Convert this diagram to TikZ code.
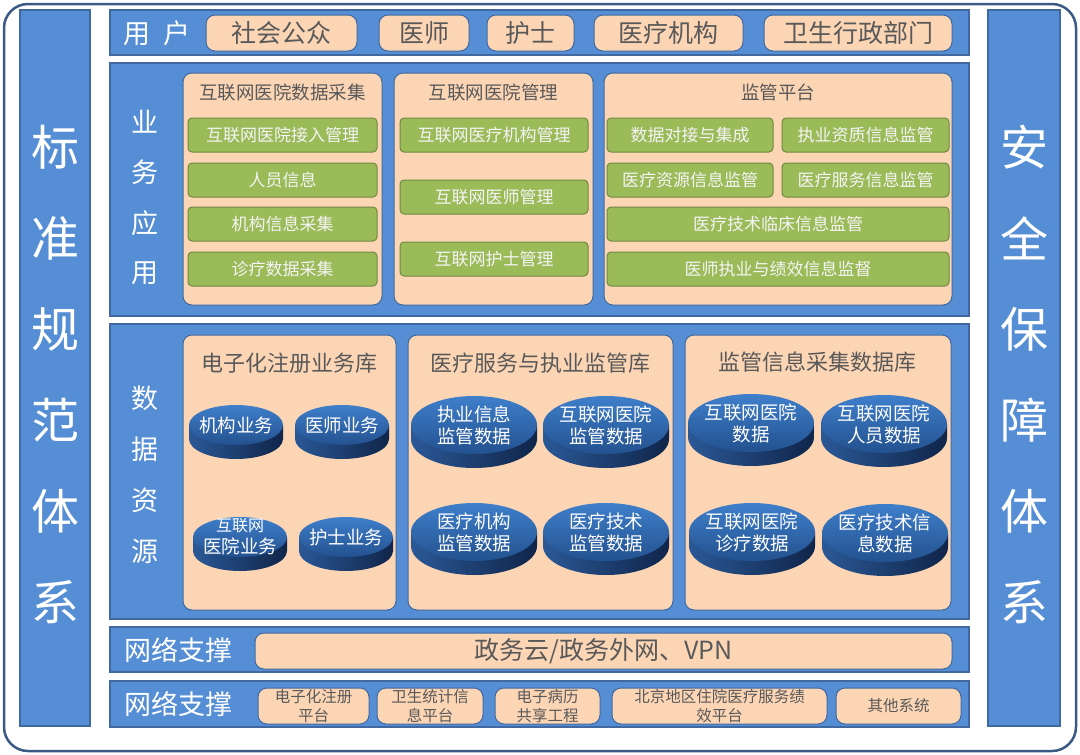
\documentclass[tikz,border=0pt]{standalone}
\usepackage{fontspec}
\setmainfont{Noto Sans CJK SC}
\usetikzlibrary{fit}
\definecolor{barblue}{HTML}{558ED5}
\definecolor{barline}{HTML}{41699F}
\definecolor{frameline}{HTML}{3C5A86}
\definecolor{peachfill}{HTML}{FCD5B5}
\definecolor{peachtext}{HTML}{595959}
\definecolor{greenfill}{HTML}{9BBB59}
\definecolor{greenline}{HTML}{71893F}
\definecolor{greentext}{HTML}{F4F4F4}
\definecolor{diskhi}{HTML}{3F7FCB}
\definecolor{disklo}{HTML}{23518F}
\definecolor{sidel}{HTML}{2A5896}
\definecolor{sider}{HTML}{10254A}
\newcommand\setfs[1]{\fontsize{#1}{#1}\selectfont}
% name, x, y, rx, ry, text
\newcommand\dbdisk[6]{%
  \shade[left color=sidel, right color=sider] (#2-#4,#3) -- (#2-#4,#3+14)
    arc[start angle=180, end angle=0, x radius=#4, y radius=#5] -- (#2+#4,#3) -- cycle;
  \shade[top color=diskhi, bottom color=disklo] (#2,#3) ellipse[x radius=#4, y radius=#5];
  \node[disktext] (#1) at (#2,#3) {#6};
}
\begin{document}
\begin{tikzpicture}[x=1pt,y=-1pt,
  bar/.style={draw=barline, fill=barblue, line width=1.2pt, inner sep=0pt},
  peach/.style={draw=barline, fill=peachfill, rounded corners=9pt, line width=1pt, inner sep=0pt, text=peachtext, align=center},
  greenbox/.style={draw=greenline, fill=greenfill, rounded corners=4pt, line width=1pt, inner sep=0pt, text=greentext, font=\setfs{17}},
  bartext/.style={text=white, inner sep=0pt},
  paneltitle/.style={text=peachtext, inner sep=0pt},
  disktext/.style={text=white, align=center, inner sep=0pt, font=\fontsize{18.5}{22}\selectfont},
]
\useasboundingbox[fill=white] (0,0) rectangle (1080,755);
\node[draw=frameline, fill=white, line width=2.5pt, rounded corners=24pt, inner sep=0pt, fit={(4,4) (1076,751)}] (frame) {};
\node[bar, fit={(20,10) (90,726)}] (stdcol) {};
\node[bar, fit={(988,10) (1060,726)}] (safecol) {};
\foreach \c [count=\n] in {标,准,规,范,体,系} {
  \node[bartext, font=\setfs{48}] (std\n) at (55,{147+91*(\n-1)}) {\c};
  }
\foreach \c [count=\n] in {安,全,保,障,体,系} {
  \node[bartext, font=\setfs{48}] (safe\n) at (1024,{147+91*(\n-1)}) {\c};
  }
% users
\node[bar, fit={(110,10) (969,55)}] (userrow) {};
\node[bartext, font=\setfs{27}] (userlbl) at (157,33) {用\hspace{14pt}户};
\foreach \t/\a/\b [count=\n] in {社会公众/206/357,医师/379/469,护士/487/574,医疗机构/594/743,卫生行政部门/764/952} {
  \node[peach, font=\setfs{25}, minimum width=\b-\a, minimum height=36] (user\n) at ({(\a+\b)/2},33) {\t};
  }
% business
\node[bar, fit={(110,63) (969,316)}] (bizrow) {};
\foreach \c [count=\n] in {业,务,应,用} {
  \node[bartext, font=\setfs{27}] (biz\n) at (145,{122+50.5*(\n-1)}) {\c};
  }
\node[peach, fit={(183,73) (382,305)}] (collect) {};
\node[peach, fit={(394,73) (593,305)}] (manage) {};
\node[peach, fit={(604,73) (952,305)}] (superv) {};
\node[paneltitle, font=\setfs{18.5}] (collecttitle) at (282.5,92) {互联网医院数据采集};
\node[paneltitle, font=\setfs{18.5}] (managetitle) at (493.5,92) {互联网医院管理};
\node[paneltitle, font=\setfs{18.5}] (supervtitle) at (778,92) {监管平台};
\foreach \t/\y [count=\n] in {互联网医院接入管理/118,人员信息/163,机构信息采集/207,诊疗数据采集/252} {
  \node[greenbox, minimum width=189, minimum height=34] (collect\n) at (282.5,\y+17) {\t};
  }
\foreach \t/\y [count=\n] in {互联网医疗机构管理/118,互联网医师管理/180,互联网护士管理/242} {
  \node[greenbox, minimum width=188, minimum height=34] (manage\n) at (494,\y+17) {\t};
  }
\foreach \t/\a/\b/\y [count=\n] in {数据对接与集成/607/773/118,执业资质信息监管/782/949/118,医疗资源信息监管/607/773/163,医疗服务信息监管/782/949/163,医疗技术临床信息监管/607/949/207,医师执业与绩效信息监督/607/949/252} {
  \node[greenbox, minimum width=\b-\a, minimum height=34] (superv\n) at ({(\a+\b)/2},\y+17) {\t};
  }
% data
\node[bar, fit={(110,324) (969,619)}] (datarow) {};
\foreach \c [count=\n] in {数,据,资,源} {
  \node[bartext, font=\setfs{27}] (data\n) at (145,{398+51*(\n-1)}) {\c};
  }
\node[peach, fit={(183,335) (396,610)}] (regdb) {};
\node[peach, fit={(408,335) (673,610)}] (servdb) {};
\node[peach, fit={(685,335) (951,610)}] (infodb) {};
\node[paneltitle, font=\setfs{22}] (regtitle) at (289.5,363) {电子化注册业务库};
\node[paneltitle, font=\setfs{22}] (servtitle) at (540.5,363) {医疗服务与执业监管库};
\node[paneltitle, font=\setfs{22}] (infotitle) at (817,362) {监管信息采集数据库};
\dbdisk{reg1}{236}{425}{47}{20}{机构业务}
\dbdisk{reg2}{342}{425}{47}{20}{医师业务}
\dbdisk{reg3}{240}{537}{47}{20}{\setfs{16}互联网\\医院业务}
\dbdisk{reg4}{346}{537}{47}{20}{护士业务}
\dbdisk{serv1}{474}{425}{63}{29}{执业信息\\监管数据}
\dbdisk{serv2}{606}{425}{63}{29}{互联网医院\\监管数据}
\dbdisk{serv3}{474}{532}{63}{29}{医疗机构\\监管数据}
\dbdisk{serv4}{606}{532}{63}{29}{医疗技术\\监管数据}
\dbdisk{info1}{751}{423}{63}{29}{互联网医院\\数据}
\dbdisk{info2}{884}{424}{63}{29}{互联网医院\\人员数据}
\dbdisk{info3}{752}{532}{63}{29}{互联网医院\\诊疗数据}
\dbdisk{info4}{885}{533}{63}{29}{医疗技术信\\息数据}
% network
\node[bar, fit={(110,627) (969,672)}] (netrow) {};
\node[bartext, font=\setfs{27}] (netlbl) at (178,650) {网络支撑};
\node[peach, font=\setfs{25}, minimum width=697, minimum height=36] (cloud) at (603.5,651) {政务云/政务外网、VPN};
\node[bar, fit={(110,681) (969,727)}] (sysrow) {};
\node[bartext, font=\setfs{27}] (syslbl) at (178,704) {网络支撑};
\foreach \t/\a/\b [count=\n] in {电子化注册\\平台/258/369,卫生统计信\\息平台/377/483,电子病历\\共享工程/495/600,北京地区住院医疗服务绩\\效平台/612/827,其他系统/836/961} {
  \node[peach, font=\fontsize{15.5}{19}\selectfont, minimum width=\b-\a, minimum height=36] (sys\n) at ({(\a+\b)/2},706) {\t};
  }
\end{tikzpicture}
\end{document}
